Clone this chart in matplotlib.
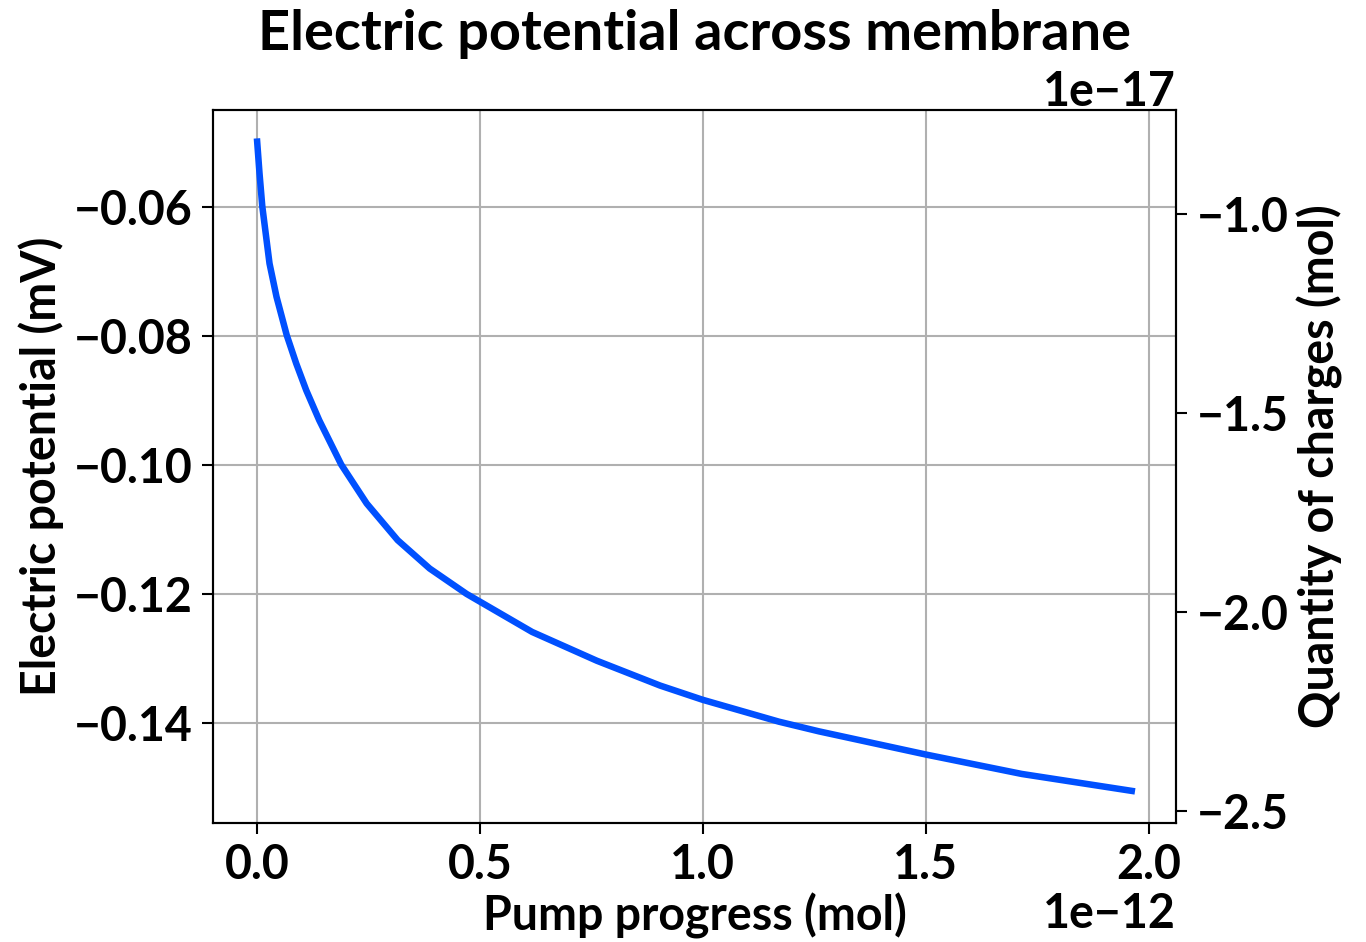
import matplotlib
matplotlib.use("Agg")
import matplotlib.pyplot as plt

# Data (pump progress in mol, potential in mV)
pump_progress = [0.0, 0.00583e-12, 0.01211e-12, 0.02825e-12, 0.04395e-12,
                 0.06682e-12, 0.08812e-12, 0.11054e-12, 0.13969e-12, 0.18901e-12,
                 0.24619e-12, 0.31570e-12, 0.38744e-12, 0.47040e-12, 0.61726e-12,
                 0.76233e-12, 0.9043e-12, 0.9996e-12, 1.171e-12, 1.2608e-12,
                 1.5013e-12, 1.7157e-12, 1.9695e-12]
potential_mV = [-0.04940, -0.05482, -0.05997, -0.06878, -0.07395,
                -0.07989, -0.08428, -0.08842, -0.09307, -0.09994,
                -0.10598, -0.11167, -0.11606, -0.12000, -0.12589,
                -0.13035, -0.1342, -0.1364, -0.1398, -0.1413,
                -0.1449, -0.1479, -0.1506]

x_ticks = [0.0, 0.5e-12, 1.0e-12, 1.5e-12, 2.0e-12]
left_ticks = [-0.14, -0.12, -0.10, -0.08, -0.06]
right_ticks = [-2.5e-17, -2.0e-17, -1.5e-17, -1.0e-17]

title = "Electric potential across membrane"
xlabel = "Pump progress (mol)"
ylabel_left = "Electric potential (mV)"
ylabel_right = "Quantity of charges (mol)"

plt.rcParams['font.family'] = ['Lato', 'DejaVu Sans']
plt.rcParams['font.weight'] = 'bold'
plt.rcParams['axes.labelweight'] = 'bold'
plt.rcParams['axes.titleweight'] = 'bold'
plt.rcParams['font.size'] = 33.5

fig = plt.figure(figsize=(13.66, 9.42), dpi=100)
L, R, T, B = 213 / 1366, 1176 / 1366, 1 - 110 / 942, 1 - 823 / 942
ax = fig.add_axes([L, B, R - L, T - B])
ax.plot(pump_progress, potential_mV, color='#0050ff', linewidth=4.7,
        solid_capstyle='butt', solid_joinstyle='round', zorder=3)
ax.set_xlim(-0.0985e-12, 2.0615e-12)
ax.set_ylim(-0.1555, -0.0450)
ax.set_xticks(x_ticks)
ax.set_yticks(left_ticks)
ax.grid(True, color='#b0b0b0', linewidth=1.5)
ax.set_xlabel(xlabel, labelpad=4)
ax.set_ylabel(ylabel_left, labelpad=7)
ax.set_title(title, pad=43)
for s in ax.spines.values():
    s.set_linewidth(1.5)
ax.tick_params(width=1.5, length=7.7, pad=7)

ax2 = ax.twinx()
ax2.set_ylim(-2.529e-17, -0.738e-17)
ax2.set_yticks(right_ticks)
ax2.set_ylabel(ylabel_right, labelpad=6)
ax2.tick_params(width=1.5, length=7.7, pad=7)
for s in ax2.spines.values():
    s.set_linewidth(1.5)

fig.savefig("out.png", dpi=100)
